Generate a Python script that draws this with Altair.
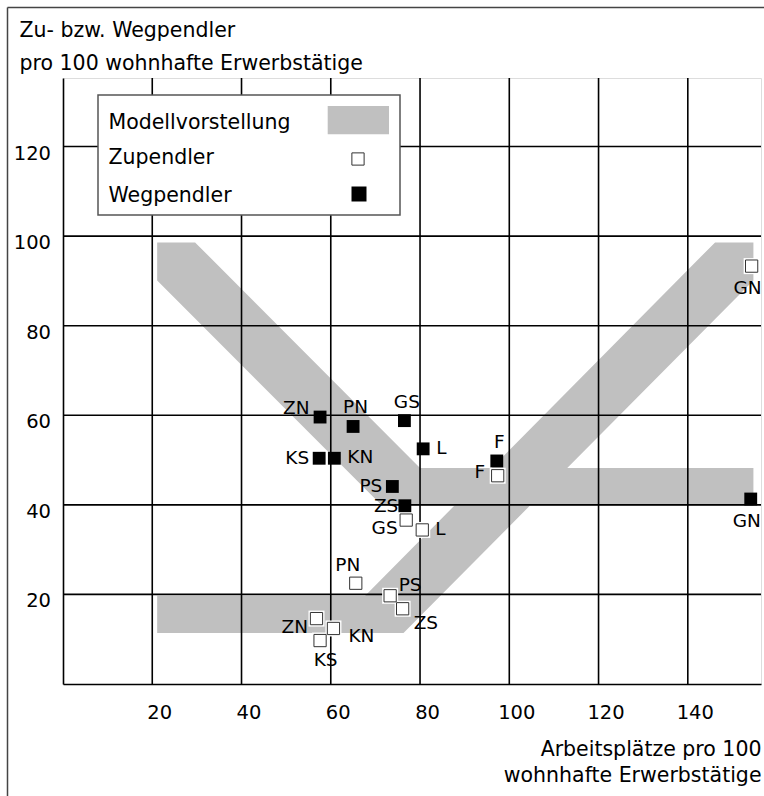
import altair as alt
import pandas as pd

# ---------------- data ----------------
x_ticks = [20, 40, 60, 80, 100, 120, 140]
y_ticks = [20, 40, 60, 80, 100, 120]

# Wegpendler (filled squares)
wp_names = ["ZN", "PN", "GS", "L", "KS", "KN", "PS", "ZS", "F", "GN"]
wp_x = [57.6, 65.0, 76.5, 80.7, 57.4, 60.8, 73.8, 76.6, 97.2, 154.1]
wp_y = [59.6, 57.5, 58.8, 52.5, 50.4, 50.4, 44.1, 39.8, 49.8, 41.3]

# Zupendler (open squares)
zp_names = ["GS", "L", "F", "GN", "PN", "PS", "ZS", "ZN", "KN", "KS"]
zp_x = [76.9, 80.5, 97.4, 154.3, 65.6, 73.3, 76.1, 56.8, 60.6, 57.6]
zp_y = [36.6, 34.4, 46.5, 93.3, 22.5, 19.7, 16.8, 14.6, 12.4, 9.7]

# Modellvorstellung: two band outlines (polygon vertices)
band_weg_x = [21.1, 29.6, 80.0, 154.7, 154.7, 71.5, 21.1]
band_weg_y = [98.6, 98.6, 48.2, 48.2, 39.8, 39.8, 90.1]
band_zu_x = [21.1, 67.7, 146.1, 154.7, 154.7, 76.3, 21.1]
band_zu_y = [19.7, 19.7, 98.6, 98.6, 90.1, 11.4, 11.4]

x_title = ["Arbeitsplätze pro 100", "wohnhafte Erwerbstätige"]
y_title = ["Zu- bzw. Wegpendler", "pro 100 wohnhafte Erwerbstätige"]
legend_labels = ["Modellvorstellung", "Zupendler", "Wegpendler"]

# label placement (style): key -> (align, dx, dy)
places = {
    "l": ("right", -10, 5.5),
    "lc": ("right", -6.5, 6.3),
    "lf": ("right", -12.5, 2.5),
    "ul": ("right", -10.5, -3.5),
    "dl": ("right", -8.5, 14),
    "r": ("left", 13, 5),
    "ur": ("left", 8.5, -4.5),
    "dr": ("left", 11, 20),
    "rl": ("left", 15, 13.5),
    "a": ("center", 2.5, -13),
    "al": ("center", -8, -12),
    "b": ("center", -4, 27.5),
    "bs": ("center", 5.5, 25.5),
}
wp_place = ["ul", "a", "a", "r", "l", "r", "l", "lc", "a", "b"]
zp_place = ["dl", "r", "lf", "b", "al", "ur", "dr", "dl", "rl", "bs"]

FONT = "DejaVu Sans"
BAND = "#c0c0c0"

# ---------------- tables ----------------
wp_df = pd.DataFrame({"name": wp_names, "x": wp_x, "y": wp_y, "place": wp_place})
zp_df = pd.DataFrame({"name": zp_names, "x": zp_x, "y": zp_y, "place": zp_place})
band_rows = []
for i, (bx, by) in enumerate(zip(band_weg_x, band_weg_y)):
    band_rows.append({"band": "weg", "i": i, "x": bx, "y": by})
for i, (bx, by) in enumerate(zip(band_zu_x, band_zu_y)):
    band_rows.append({"band": "zu", "i": i, "x": bx, "y": by})
band_df = pd.DataFrame(band_rows)
dummy = pd.DataFrame({"k": [0]})

W, H = 698, 606
xs = alt.Scale(domain=[0, 156.4], nice=False, zero=False)
ys = alt.Scale(domain=[0, 135.3], nice=False, zero=False)

x_axis = alt.Axis(
    values=x_ticks, grid=False, ticks=False, tickSize=0,
    domain=True, domainColor="black", domainWidth=1.6,
    labelFont=FONT, labelFontSize=19.5, labelColor="black",
    labelPadding=34, labelBaseline="alphabetic", labelOffset=7,
    labelFlush=False, labelOverlap=False,
    title=x_title, titleFont=FONT, titleFontSize=20.5, titleFontWeight="normal",
    titleColor="black", titleAngle=0, titleAlign="right", titleBaseline="alphabetic",
    titleX=W, titleY=71, titleLineHeight=26,
)
y_axis = alt.Axis(
    values=y_ticks, grid=False, ticks=False, tickSize=0,
    domain=True, domainColor="black", domainWidth=1.6,
    labelFont=FONT, labelFontSize=19.5, labelColor="black",
    labelPadding=12.5, labelBaseline="alphabetic", labelOffset=12.5,
    labelFlush=False, labelOverlap=False,
    title=y_title, titleFont=FONT, titleFontSize=20.5, titleFontWeight="normal",
    titleColor="black", titleAngle=0, titleAlign="left", titleBaseline="alphabetic",
    titleX=-44, titleY=-41.3, titleLineHeight=32.6,
)


def X(f):
    return alt.X(f, scale=xs, axis=x_axis)


def Y(f):
    return alt.Y(f, scale=ys, axis=y_axis)


bands = alt.Chart(band_df).mark_line(filled=True, color=BAND, strokeWidth=0).encode(
    x=X("x:Q"), y=Y("y:Q"), detail="band:N", order="i:Q"
)

vgrid = alt.Chart(pd.DataFrame({"v": x_ticks})).mark_rule(color="black", strokeWidth=1.6).encode(
    x=X("v:Q")
)
hgrid = alt.Chart(pd.DataFrame({"h": y_ticks})).mark_rule(color="black", strokeWidth=1.6).encode(
    y=Y("h:Q")
)

# legend box
leg_box = alt.Chart(dummy).mark_rect(fill="white", stroke="#555", strokeWidth=1.5).encode(
    x=alt.value(35), x2=alt.value(337), y=alt.value(17), y2=alt.value(137)
)
leg_swatch = alt.Chart(dummy).mark_rect(color=BAND).encode(
    x=alt.value(264.7), x2=alt.value(326), y=alt.value(28), y2=alt.value(56.3)
)
leg_zu = alt.Chart(dummy).mark_square(fill="white", stroke="#333", strokeWidth=1, size=150, opacity=1).encode(
    x=alt.value(295), y=alt.value(81)
)
leg_weg = alt.Chart(dummy).mark_square(color="black", size=225, opacity=1).encode(
    x=alt.value(296), y=alt.value(116)
)
leg_texts = []
for lab, by in zip(legend_labels, [51, 86, 124]):
    leg_texts.append(
        alt.Chart(dummy).mark_text(align="left", baseline="alphabetic", font=FONT, fontSize=20.5,
                                   color="black", text=lab).encode(x=alt.value(45.5), y=alt.value(by))
    )

zp_halo = alt.Chart(zp_df).mark_square(color="white", size=256, opacity=1).encode(x=X("x:Q"), y=Y("y:Q"))
zp_pts = alt.Chart(zp_df).mark_square(fill="white", stroke="#333", strokeWidth=1, size=150, opacity=1).encode(
    x=X("x:Q"), y=Y("y:Q")
)
wp_pts = alt.Chart(wp_df).mark_square(color="black", size=165, opacity=1).encode(x=X("x:Q"), y=Y("y:Q"))

labels = []
for df in (wp_df, zp_df):
    for key, (al, dx, dy) in places.items():
        if key not in set(df["place"]):
            continue
        labels.append(
            alt.Chart(df).transform_filter(alt.datum.place == key).mark_text(
                align=al, baseline="alphabetic", dx=dx, dy=dy, font=FONT, fontSize=18.5, color="black"
            ).encode(x=X("x:Q"), y=Y("y:Q"), text="name:N")
        )

frame_top = alt.Chart(dummy).mark_rule(color="#444", strokeWidth=1.5).encode(
    x=alt.value(-55.5), x2=alt.value(701), y=alt.value(-70.5)
)
frame_left = alt.Chart(dummy).mark_rule(color="#444", strokeWidth=1.5).encode(
    x=alt.value(-55.5), y=alt.value(-70.5), y2=alt.value(718)
)

chart = alt.layer(
    bands, vgrid, hgrid, leg_box, leg_swatch, leg_zu, leg_weg, *leg_texts,
    zp_halo, zp_pts, wp_pts, *labels, frame_top, frame_left
).properties(
    width=W, height=H,
    autosize=alt.AutoSizeParams(type="none"),
    padding={"left": 63, "top": 78, "right": 3, "bottom": 112},
).configure_view(stroke=None).configure(font=FONT, background="white")

chart.save("out.html", embed_options={"renderer": "svg", "actions": False})
